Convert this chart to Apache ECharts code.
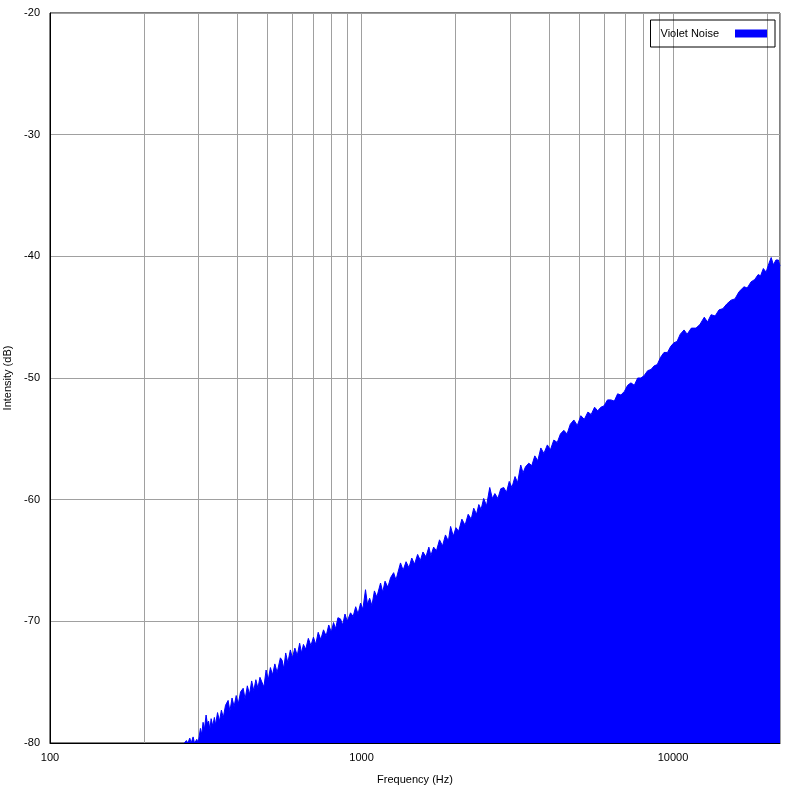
<!DOCTYPE html>
<html>
<head>
<meta charset="utf-8">
<script src="https://cdn.jsdelivr.net/npm/echarts@6/dist/echarts.min.js"></script>
<style>
html,body{margin:0;padding:0;background:#fff;}
#chart{width:800px;height:800px;}
</style>
</head>
<body>
<div id="chart"></div>
<script>
var freqs = [270,274,277,281,284,288,291,296,299,302,304,307,310,313,317,320,323,326,329,333,337,340,345,350,355,360,366,373,378,384,390,396,402,409,417,423,430,437,444,451,458,465,472,479,486,494,502,510,518,527,536,549,556,563,571,580,591,600,611,622,633,642,651,662,675,688,701,713,726,740,755,770,785,800,813,826,840,856,870,885,900,922,940,958,975,993,1010,1030,1045,1062,1080,1100,1120,1151,1170,1190,1215,1240,1268,1290,1334,1360,1390,1420,1450,1480,1514,1545,1575,1610,1645,1670,1704,1740,1780,1820,1860,1900,1932,1970,2010,2050,2100,2150,2200,2250,2292,2340,2380,2420,2467,2520,2580,2630,2680,2740,2800,2861,2920,2980,3040,3110,3170,3244,3300,3360,3443,3520,3600,3680,3764,3850,3950,4040,4143,4250,4350,4461,4570,4680,4805,4930,5060,5190,5330,5460,5600,5730,5866,6000,6160,6319,6480,6640,6806,6980,7150,7328,7510,7700,7890,8080,8290,8496,8700,8900,9120,9355,9600,9830,10070,10300,10550,10850,11100,11450,11850,12200,12600,12900,13250,13650,14050,14450,14900,15360,15800,16300,16900,17300,17800,18300,18760,19100,19500,19900,20300,20660,21000,21400,21780,22050];
var violet = [-80,-79.8,-80,-79.6,-80,-79.5,-80,-79.7,-80,-80,-78.8,-79.3,-78.3,-78.9,-77.7,-78.4,-78.2,-78.9,-78.0,-78.6,-77.9,-78.5,-77.5,-78.2,-77.3,-77.9,-76.9,-76.5,-77.4,-76.3,-77.0,-76.1,-76.8,-75.8,-75.5,-76.4,-75.3,-76.0,-74.9,-75.7,-74.8,-75.5,-74.6,-74.7,-75.4,-74.0,-74.8,-73.8,-74.4,-73.5,-74.2,-73.0,-73.2,-73.9,-72.6,-73.4,-72.35,-73.0,-72.2,-72.8,-71.8,-72.6,-71.9,-72.3,-71.4,-72.0,-71.3,-71.9,-70.9,-71.5,-70.7,-71.2,-70.3,-70.9,-70.1,-70.6,-69.7,-69.8,-70.3,-69.4,-70.0,-69.3,-69.6,-68.8,-69.4,-68.5,-69.0,-67.4,-68.6,-68.1,-68.7,-67.5,-68.0,-66.85,-67.6,-66.7,-67.2,-66.4,-66.0,-66.6,-65.2,-65.8,-65.1,-65.6,-64.8,-65.3,-64.5,-65.0,-64.3,-64.7,-63.9,-64.6,-63.9,-64.2,-63.3,-63.8,-62.9,-63.4,-62.2,-63.0,-62.3,-62.6,-61.6,-62.1,-61.2,-61.6,-60.7,-61.2,-60.4,-60.8,-59.9,-60.5,-59.0,-59.9,-59.5,-59.9,-59.1,-59.0,-59.4,-58.5,-59.0,-58.1,-58.6,-57.15,-57.8,-57.3,-57.0,-57.2,-56.4,-56.8,-55.75,-56.2,-55.5,-55.9,-55.1,-55.3,-54.6,-54.3,-54.6,-53.8,-53.45,-53.9,-53.1,-53.4,-52.8,-53.0,-52.4,-52.7,-52.4,-52.3,-51.8,-51.8,-51.9,-51.3,-51.4,-51.1,-50.6,-50.4,-50.6,-50.0,-50.0,-49.8,-49.4,-49.3,-49.0,-48.9,-48.3,-47.9,-47.9,-47.4,-47.1,-47.0,-46.4,-46.05,-46.4,-45.9,-45.9,-45.6,-45.0,-45.4,-44.8,-44.9,-44.4,-44.3,-43.9,-43.6,-43.5,-42.9,-42.5,-42.6,-42.1,-41.9,-41.5,-41.6,-41.0,-41.3,-40.6,-40.1,-40.7,-40.3,-40.3,-40.8];
var minorGridFreqs = [200,300,400,500,600,700,800,900,2000,3000,4000,5000,6000,7000,8000,9000,20000];
var xTickLabels = [100,1000,10000];
var yTicks = [-80,-70,-60,-50,-40,-30,-20];

var seriesData = freqs.map(function(f,i){ return [f, violet[i]]; });
var FONT = 'Liberation Sans, Arial, sans-serif';

var chart = echarts.init(document.getElementById('chart'), null, {renderer:'canvas'});
chart.setOption({
  animation: false,
  backgroundColor: '#fff',
  grid: {left:50, right:20, top:13, bottom:57, containLabel:false, outerBoundsMode:'none',
         show:true, borderColor:'#000', borderWidth:1, backgroundColor:'#fff'},
  legend: {
    right: 25, top: 20,
    orient: 'vertical',
    align: 'right',
    borderColor: '#000', borderWidth: 1, borderRadius: 0,
    padding: [8, 8, 8, 10],
    itemWidth: 32, itemHeight: 8,
    icon: 'rect',
    textStyle: {fontFamily: FONT, fontSize: 11, color: '#000', padding: [0, 11, 0, 0]},
    data: ['Violet Noise']
  },
  xAxis: {
    type: 'log', logBase: 10, min: 100, max: 22050,
    name: 'Frequency (Hz)', nameLocation: 'middle', nameGap: 31,
    nameTextStyle: {fontFamily: FONT, fontSize: 11, color: '#000'},
    axisLine: {show: true, lineStyle: {color: '#000', width: 1}},
    axisTick: {show: false},
    axisLabel: {fontFamily: FONT, fontSize: 11, color: '#000', margin: 9, showMaxLabel: false,
      formatter: function(v){ return xTickLabels.indexOf(Math.round(v)) >= 0 ? String(Math.round(v)) : ''; }},
    splitLine: {show: true, lineStyle: {color: '#a0a0a0', width: 1}}
  },
  yAxis: {
    type: 'value', min: yTicks[0], max: yTicks[yTicks.length-1], interval: 10,
    name: 'Intensity (dB)', nameLocation: 'middle', nameGap: 30,
    nameTextStyle: {fontFamily: FONT, fontSize: 11, color: '#000'},
    axisLine: {show: true, lineStyle: {color: '#000', width: 1}},
    axisTick: {show: false},
    axisLabel: {fontFamily: FONT, fontSize: 11, color: '#000', margin: 10},
    splitLine: {show: true, lineStyle: {color: '#a0a0a0', width: 1}}
  },
  series: [
    {
      name: 'grid-minor', type: 'line', data: [[100, -80]], showSymbol: false, z: 1,
      lineStyle: {opacity: 0}, silent: true,
      markLine: {
        z: 1, silent: true, symbol: ['none','none'], animation: false,
        label: {show: false},
        lineStyle: {color: '#a0a0a0', type: 'solid', width: 1},
        data: minorGridFreqs.map(function(f){ return {xAxis: f}; })
      }
    },
    {
      name: 'Violet Noise', type: 'line', data: seriesData, z: 3,
      showSymbol: false, symbol: 'none', smooth: false,
      color: '#0000ff',
      lineStyle: {color: '#0000ff', width: 1},
      areaStyle: {color: '#0000ff', opacity: 1, origin: 'start'},
      itemStyle: {color: '#0000ff'}
    }
  ]
});
</script>
</body>
</html>
